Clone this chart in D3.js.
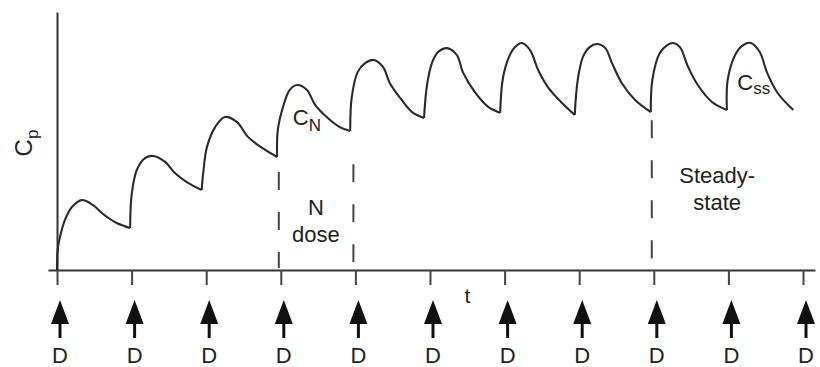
<!DOCTYPE html>
<html>
<head>
<meta charset="utf-8">
<script src="https://cdn.jsdelivr.net/npm/d3@7"></script>
<style>
body{margin:0;background:#fff;}
text{font-family:"Liberation Sans",Arial,sans-serif;fill:#222;}
</style>
</head>
<body>
<script>
// dose times, in dosing intervals
var doses=[0,1,2,3,4,5,6,7,8,9,10]
var doseLabel="D"

// plasma concentration, one array per dosing interval: [t, Cp]
var cpCurve=[
  [[0,0],[0.01,8],[0.04,12.8],[0.107,19.4],[0.2,24.4],[0.335,27.1],[0.48,25.2],[0.617,21.7],[0.8,18.2],[0.98,16.3]],
  [[0.98,16.3],[1.0,29],[1.07,38.8],[1.18,43.4],[1.29,44.2],[1.45,41.9],[1.58,37.6],[1.74,34.1],[1.94,31.0]],
  [[1.94,31.0],[1.96,37.6],[2.01,47.7],[2.12,55.4],[2.25,59.3],[2.41,57.4],[2.56,51.6],[2.75,47.3],[2.95,43.8]],
  [[2.95,43.8],[2.96,54.3],[3.03,63.2],[3.12,69.8],[3.22,71.7],[3.35,69.8],[3.46,64.0],[3.63,58.9],[3.79,55.4],[3.93,53.9]],
  [[3.93,53.9],[3.95,66.7],[4.03,76.7],[4.13,80.2],[4.25,81.4],[4.37,78.7],[4.46,72.5],[4.6,66.7],[4.76,61.2],[4.92,58.9]],
  [[4.92,58.9],[4.96,71.7],[5.03,80.6],[5.11,84.5],[5.23,86.0],[5.36,83.3],[5.44,76.7],[5.6,69.0],[5.78,63.2],[5.94,60.9]],
  [[5.94,60.9],[5.98,74.8],[6.07,83.3],[6.14,86.4],[6.23,88.0],[6.34,85.3],[6.45,77.5],[6.58,70.9],[6.77,64.7],[6.94,60.1]],
  [[6.94,60.1],[6.98,73.6],[7.05,82.6],[7.14,86.4],[7.24,87.6],[7.35,86.0],[7.44,80.2],[7.57,72.5],[7.75,65.9],[7.96,61.2]],
  [[7.96,61.2],[7.98,73.6],[8.08,84.1],[8.18,87.2],[8.26,88.0],[8.35,86.4],[8.46,78.7],[8.59,71.7],[8.78,65.1],[8.98,62.0]],
  [[8.98,62.0],[8.99,73.6],[9.09,83.3],[9.18,86.8],[9.3,88.0],[9.42,84.5],[9.52,76.4],[9.66,68.6],[9.87,62.0]]
]

// dashed markers: at which dose, and the Cp where the dashes start
var dashAt=[3,4,8]
var dashTop=[38,41,58]

var svg_width=820, svg_height=367
var svg=d3.select('body').append('svg')
  .attr('width',svg_width)
  .attr('height',svg_height)

var x=d3.scaleLinear().domain([0,10]).range([57,803])
var y=d3.scaleLinear().domain([0,100]).range([270,12])

// axes
var xAxisScale=d3.scaleLinear().domain([x.invert(48),x.invert(815)]).range([48,815])
var gx=svg.append('g')
  .attr('transform','translate(0,'+y(0)+')')
  .call(d3.axisBottom(xAxisScale).tickValues(doses).tickSize(15).tickSizeOuter(0).tickFormat(''))
gx.select('.domain').attr('stroke','#333').attr('stroke-width',2)
gx.selectAll('.tick line').attr('stroke','#444').attr('stroke-width',2)

var gy=svg.append('g')
  .attr('transform','translate('+x(0)+',0)')
  .call(d3.axisLeft(y).tickValues([]).tickSizeOuter(0))
gy.select('.domain').attr('stroke','#333').attr('stroke-width',2)

// dashed lines
svg.selectAll('line.dash')
  .data(dashAt)
  .enter()
  .append('line')
  .attr('class','dash')
  .attr('x1',function(d){return x(d)-2})
  .attr('x2',function(d){return x(d)-2})
  .attr('y1',function(d,i){return y(dashTop[i])})
  .attr('y2',y(0)-2)
  .attr('stroke','#444')
  .attr('stroke-width',2)
  .attr('stroke-dasharray','18,22')

// concentration curve
var line=d3.line()
  .x(function(d){return x(d[0])})
  .y(function(d){return y(d[1])})
  .curve(d3.curveCatmullRom.alpha(0.5))
svg.selectAll('path.cp')
  .data(cpCurve)
  .enter()
  .append('path')
  .attr('class','cp')
  .attr('d',line)
  .attr('fill','none')
  .attr('stroke','#2a2a2a')
  .attr('stroke-width',2.1)
  .attr('stroke-linejoin','round')

// dose arrows
var arrowShift=3
var arrows=svg.selectAll('g.arrow')
  .data(doses)
  .enter()
  .append('g')
  .attr('class','arrow')
  .attr('transform',function(d){return 'translate('+(x(d)+arrowShift)+',0)'})
arrows.append('path')
  .attr('d','M0,300L9,324L-9,324Z')
  .attr('fill','#111')
arrows.append('line')
  .attr('y1',323).attr('y2',338)
  .attr('stroke','#111').attr('stroke-width',3)
arrows.append('text')
  .attr('y',363)
  .attr('text-anchor','middle')
  .style('font-size','22px')
  .text(doseLabel)

// labels
svg.append('text')
  .attr('x',x(5.5)).attr('y',y(0)+33)
  .attr('text-anchor','middle')
  .style('font-size','21px')
  .text('t')

var yl=svg.append('text')
  .attr('transform','translate(32,143) rotate(-90)')
  .attr('text-anchor','middle')
  .style('font-size','24px')
yl.append('tspan').text('C')
yl.append('tspan').attr('dy',6).style('font-size','17px').text('p')

var cn=svg.append('text')
  .attr('x',x(3.16)).attr('y',y(56.2))
  .style('font-size','22px')
cn.append('tspan').text('C')
cn.append('tspan').attr('dy',6).style('font-size','17px').text('N')

var css=svg.append('text')
  .attr('x',x(9.12)).attr('y',y(69.8))
  .style('font-size','22px')
css.append('tspan').text('C')
css.append('tspan').attr('dy',4).style('font-size','17px').text('ss')

svg.append('text')
  .attr('x',x(3.47)).attr('y',y(21.3))
  .attr('text-anchor','middle').style('font-size','22px')
  .text('N')
svg.append('text')
  .attr('x',x(3.47)).attr('y',y(10.9))
  .attr('text-anchor','middle').style('font-size','22px')
  .text('dose')

svg.append('text')
  .attr('x',x(8.85)).attr('y',y(33.7))
  .attr('text-anchor','middle').style('font-size','22px')
  .text('Steady-')
svg.append('text')
  .attr('x',x(8.85)).attr('y',y(23.3))
  .attr('text-anchor','middle').style('font-size','22px')
  .text('state')
</script>
</body>
</html>
